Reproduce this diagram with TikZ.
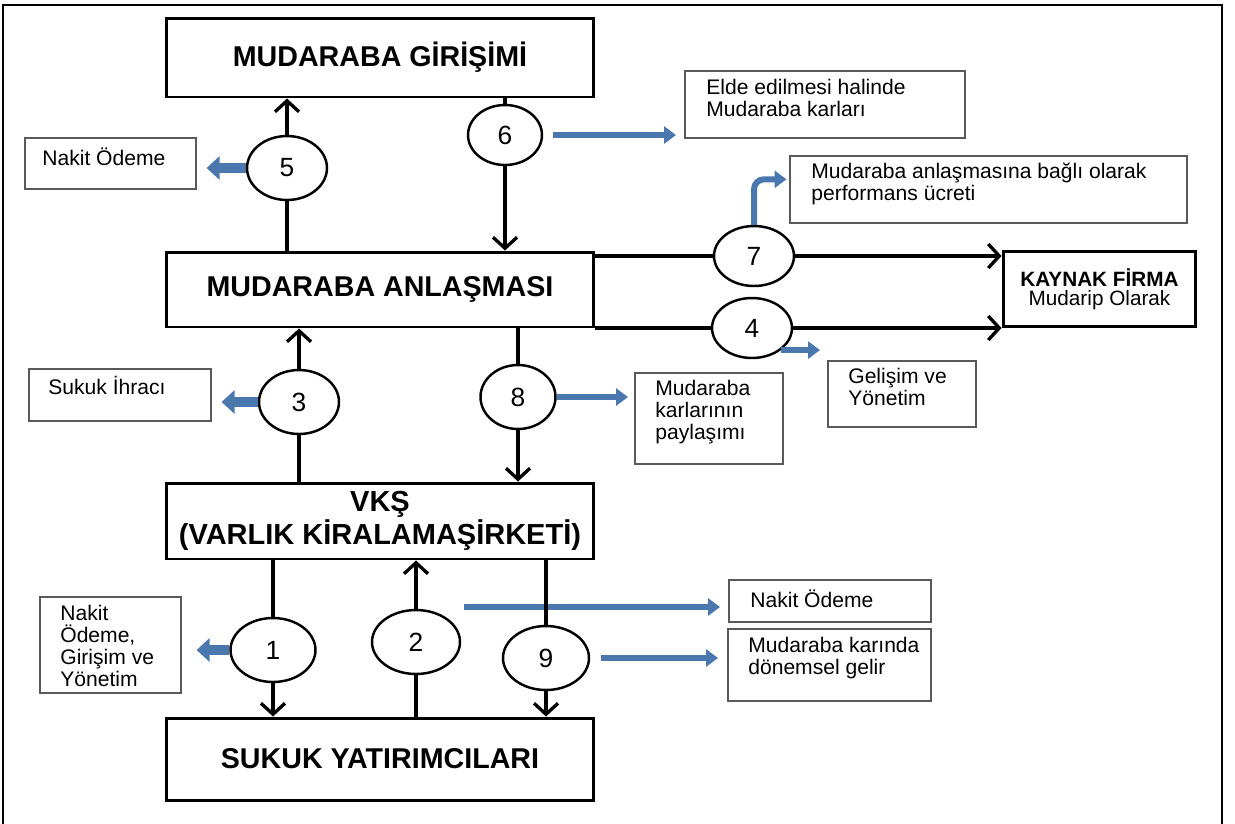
\documentclass[tikz,border=0pt]{standalone}
\usepackage{fontspec}
\setmainfont{Liberation Sans}
\usetikzlibrary{arrows.meta,shapes.geometric,calc}
\definecolor{flowblue}{HTML}{4A78AE}
\newcommand\tightlines{\lineskiplimit-20pt\relax}

\begin{document}
\begin{tikzpicture}[
  x=0.02cm, y=-0.02cm,
  >={Straight Barb[length=2.2mm,width=4.8mm]},
  mainbox/.style  = {
    draw, line width=1.7pt,
    minimum width=8.56cm, minimum height=1.55cm,
    align=center,
    font=\fontsize{16.3}{17}\selectfont\bfseries
  },
  sidebox/.style  = {draw=black!65, line width=0.9pt, anchor=north west, inner sep=0pt},
  sidetxt/.style  = {anchor=north west, inner sep=0pt, align=left, font=\fontsize{12}{12.5}\selectfont},
  stepcirc/.style = {
    draw, ellipse, line width=1.4pt,
    minimum width=1.6cm, minimum height=1.28cm, inner sep=0pt,
    font=\fontsize{15}{15}\selectfont
  },
  flow/.style     = {line width=1.9pt},
  thinblue/.style = {draw=flowblue, line width=0.12cm, -{Triangle[length=0.24cm,width=0.34cm]}},
  fatblue/.style  = {draw=flowblue, line width=0.2cm, -{Triangle[length=0.26cm,width=0.46cm]}}
]
\useasboundingbox (0,0) rectangle (1235,823);

% ---- frame ----
\draw[line width=1.2pt] (3,840) -- (3,5) -- (1222,5) -- (1222,840);

% ---- main boxes ----
\node[mainbox, minimum height=1.58cm] (gir) at (380,57.5) {MUDARABA GİRİŞİMİ};
\node[mainbox, minimum height=1.5cm]  (anl) at (380,289.5) {MUDARABA ANLAŞMASI};
\node[mainbox, minimum height=1.52cm, font=\fontsize{16.5}{16}\selectfont\bfseries] (vks) at (380,521) {VKŞ\\(VARLIK KİRALAMAŞİRKETİ)};
\node[mainbox, minimum height=1.64cm] (suk) at (380,759) {SUKUK YATIRIMCILARI};
\node[mainbox, minimum width=3.86cm, minimum height=1.5cm, font=\fontsize{11.8}{11}\selectfont\tightlines] (kay) at (1099.5,289) {\textbf{KAYNAK FİRMA}\\Mudarip Olarak};

% ---- steps ----
\node[stepcirc] (c5) at (287,168) {5};
\node[stepcirc, minimum width=1.48cm, minimum height=1.2cm] (c6) at (505,135) {6};
\node[stepcirc, minimum height=1.2cm] (c7) at (754,256) {7};
\node[stepcirc, minimum height=1.2cm] (c4) at (752,328) {4};
\node[stepcirc] (c3) at (299,402) {3};
\node[stepcirc, minimum width=1.5cm] (c8) at (518,397) {8};
\node[stepcirc, minimum width=1.7cm] (c1) at (273,650) {1};
\node[stepcirc, minimum width=1.76cm] (c2) at (416,642) {2};
\node[stepcirc, minimum width=1.72cm] (c9) at (546,658) {9};

% ---- side notes ----
\node[sidebox, minimum width=3.42cm, minimum height=1.02cm] (s5) at (24,137) {};
\node[sidetxt] (t5) at (42,147) {Nakit Ödeme};
\node[sidebox, minimum width=5.6cm, minimum height=1.34cm] (s6) at (684,70) {};
\node[sidetxt] (t6) at (706,79) {Elde edilmesi halinde\\Mudaraba karları};
\node[sidebox, minimum width=7.94cm, minimum height=1.34cm] (s7) at (789,155) {};
\node[sidetxt] (t7) at (811,163) {Mudaraba anlaşmasına bağlı olarak\\performans ücreti};
\node[sidebox, minimum width=3.64cm, minimum height=1.04cm] (s3) at (28,368) {};
\node[sidetxt] (t3) at (48,376) {Sukuk İhracı};
\node[sidebox, minimum width=2.96cm, minimum height=1.82cm] (s8) at (634,372) {};
\node[sidetxt] (t8) at (655,380) {Mudaraba\\karlarının\\paylaşımı};
\node[sidebox, minimum width=2.96cm, minimum height=1.32cm] (s4) at (827,360) {};
\node[sidetxt] (t4) at (848,368) {Gelişim ve\\Yönetim};
\node[sidebox, minimum width=2.82cm, minimum height=1.92cm] (s1) at (39,596) {};
\node[sidetxt] (t1) at (60,605) {Nakit\\Ödeme,\\Girişim ve\\Yönetim};
\node[sidebox, minimum width=4.04cm, minimum height=0.84cm] (s2) at (728,579) {};
\node[sidetxt] (t2) at (750,589) {Nakit Ödeme};
\node[sidebox, minimum width=4.06cm, minimum height=1.44cm] (s9) at (727,628) {};
\node[sidetxt] (t9) at (748,637) {Mudaraba karında\\dönemsel gelir};

% ---- blue arrows ----
\draw[fatblue, shorten >=0.2cm] (c5.west) -- (s5.east |- c5.west);
\draw[thinblue, shorten <=0.2cm, shorten >=0.16cm] (c6.east) -- (s6.west |- c6.east);
\draw[thinblue, rounded corners=0.2cm, shorten >=0.05cm] (c7.north) |- ([yshift=0.2cm]s7.west);
\draw[thinblue, shorten >=0.14cm] (c4.south east) -- (s4.west |- c4.south east);
\draw[fatblue, shorten >=0.2cm] (c3.west) -- (s3.east |- c3.west);
\draw[thinblue, shorten >=0.12cm] (c8.east) -- (s8.west |- c8.east);
\draw[fatblue, shorten >=0.3cm] (c1.west) -- (s1.east |- c1.west);
\coordinate (b2s) at ($(c2.east)+(3,-35)$);
\draw[thinblue, shorten >=0.16cm] (b2s) -- (s2.west |- b2s);
\draw[thinblue, shorten <=0.22cm, shorten >=0.18cm] (c9.east) -- (s9.west |- c9.east);

% ---- black arrows ----
\draw[flow] (anl.north -| c5) -- (c5.south);
\draw[flow,->] (c5.north) -- (gir.south -| c5);
\draw[flow] (gir.south -| c6) -- (c6.north);
\draw[flow,->] (c6.south) -- (anl.north -| c6);
\draw[flow] (vks.north -| c3) -- (c3.south);
\draw[flow,->] (c3.north) -- (anl.south -| c3);
\draw[flow] (anl.south -| c8) -- (c8.north);
\draw[flow,->] (c8.south) -- (vks.north -| c8);
\draw[flow] (anl.east |- c7) -- (c7.west);
\draw[flow,->] (c7.east) -- (kay.west |- c7);
\draw[flow] (anl.east |- c4) -- (c4.west);
\draw[flow,->] (c4.east) -- (kay.west |- c4);
\draw[flow] (vks.south -| c1) -- (c1.north);
\draw[flow,->] (c1.south) -- (suk.north -| c1);
\draw[flow] (suk.north -| c2) -- (c2.south);
\draw[flow,->] (c2.north) -- (vks.south -| c2);
\draw[flow] (vks.south -| c9) -- (c9.north);
\draw[flow,->] (c9.south) -- (suk.north -| c9);

\end{tikzpicture}
\end{document}
